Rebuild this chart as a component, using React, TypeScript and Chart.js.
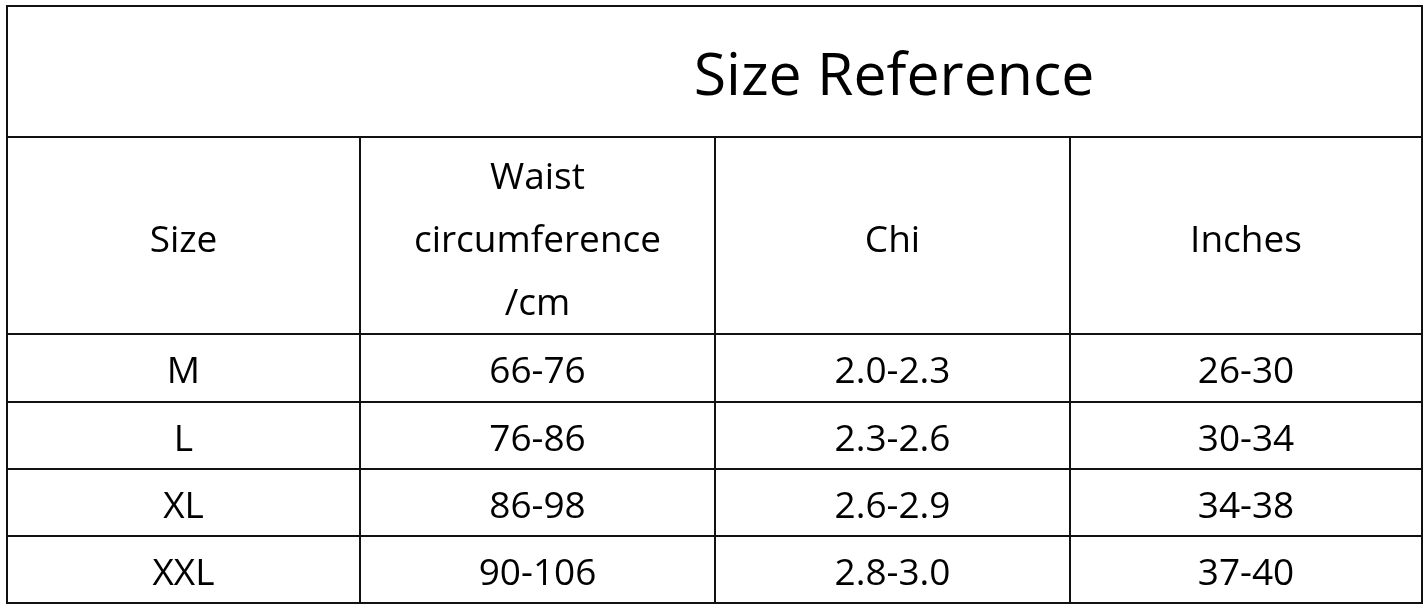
import { useEffect, useRef } from "react"
import { Chart, registerables } from "chart.js"

Chart.register(...registerables)

// table content
const title = "Size Reference"
const headerLines = [["Size"], ["Waist", "circumference", "/cm"], ["Chi"], ["Inches"]]
const sizes = ["M", "L", "XL", "XXL"]
const waistCm = ["66-76", "76-86", "86-98", "90-106"]
const chi = ["2.0-2.3", "2.3-2.6", "2.6-2.9", "2.8-3.0"]
const inches = ["26-30", "30-34", "34-38", "37-40"]

// grid geometry in scale units (the scales map 1:1 to the canvas)
const colEdges = [7, 360, 715, 1070, 1422]
const rowEdges = [6, 137, 334, 402, 469, 536, 603]
const FONT = "'Open Sans', 'Noto Sans', sans-serif"

const tablePlugin = {
  id: "sizeTable",
  afterDraw(chart: Chart) {
    const { ctx } = chart
    const x = chart.scales.x
    const y = chart.scales.y
    const px = (v: number) => x.getPixelForValue(v)
    const py = (v: number) => y.getPixelForValue(v)
    const left = px(colEdges[0])
    const right = px(colEdges[colEdges.length - 1])

    ctx.save()
    ctx.strokeStyle = "#111"
    ctx.lineWidth = 2
    ctx.lineCap = "square"

    // horizontal rules
    rowEdges.forEach((r) => {
      ctx.beginPath()
      ctx.moveTo(left, py(r))
      ctx.lineTo(right, py(r))
      ctx.stroke()
    })
    // outer verticals
    ;[colEdges[0], colEdges[colEdges.length - 1]].forEach((c) => {
      ctx.beginPath()
      ctx.moveTo(px(c), py(rowEdges[0]))
      ctx.lineTo(px(c), py(rowEdges[rowEdges.length - 1]))
      ctx.stroke()
    })
    // inner verticals start under the title row
    colEdges.slice(1, -1).forEach((c) => {
      ctx.beginPath()
      ctx.moveTo(px(c), py(rowEdges[1]))
      ctx.lineTo(px(c), py(rowEdges[rowEdges.length - 1]))
      ctx.stroke()
    })

    ctx.fillStyle = "#000"
    ctx.textAlign = "center"
    ctx.textBaseline = "alphabetic"

    // title, centred over the value columns
    ctx.font = `59px ${FONT}`
    ctx.fillText(title, px((colEdges[1] + colEdges[4]) / 2 + 3), py(95))

    const colMid = (i: number) => px((colEdges[i] + colEdges[i + 1]) / 2)

    // header
    ctx.font = `37px ${FONT}`
    const hMid = (rowEdges[1] + rowEdges[2]) / 2
    headerLines.forEach((lines, i) => {
      const start = hMid + 16 - ((lines.length - 1) * 63) / 2
      lines.forEach((line, k) => {
        ctx.fillText(line, colMid(i), py(start + k * 63))
      })
    })

    // body rows
    const columns = [sizes, waistCm, chi, inches]
    sizes.forEach((_, r) => {
      const mid = (rowEdges[r + 2] + rowEdges[r + 3]) / 2
      columns.forEach((col, c) => {
        ctx.fillText(col[r], colMid(c), py(mid + 15))
      })
    })
    ctx.restore()
  },
}

export default function App() {
  const chartRef = useRef<HTMLCanvasElement>(null)
  const chartInstance = useRef<Chart | null>(null)

  useEffect(() => {
    if (!chartRef.current) return
    if (chartInstance.current) chartInstance.current.destroy()
    const ctx = chartRef.current.getContext("2d")
    if (!ctx) return

    chartInstance.current = new Chart(ctx, {
      type: "scatter",
      data: { datasets: [{ data: [], pointRadius: 0 }] },
      options: {
        animation: false,
        responsive: true,
        maintainAspectRatio: false,
        layout: { padding: 0 },
        events: [],
        scales: {
          x: { type: "linear", min: 0, max: 1425, display: false },
          y: { type: "linear", min: 0, max: 609, reverse: true, display: false },
        },
        plugins: { legend: { display: false }, tooltip: { enabled: false } },
      },
      plugins: [tablePlugin],
    })

    return () => {
      if (chartInstance.current) {
        chartInstance.current.destroy()
        chartInstance.current = null
      }
    }
  }, [])

  return (
    <div style={{ position: "absolute", left: 0, top: 0, width: 1425, height: 609, background: "#fff" }}>
      <canvas ref={chartRef} />
    </div>
  )
}
